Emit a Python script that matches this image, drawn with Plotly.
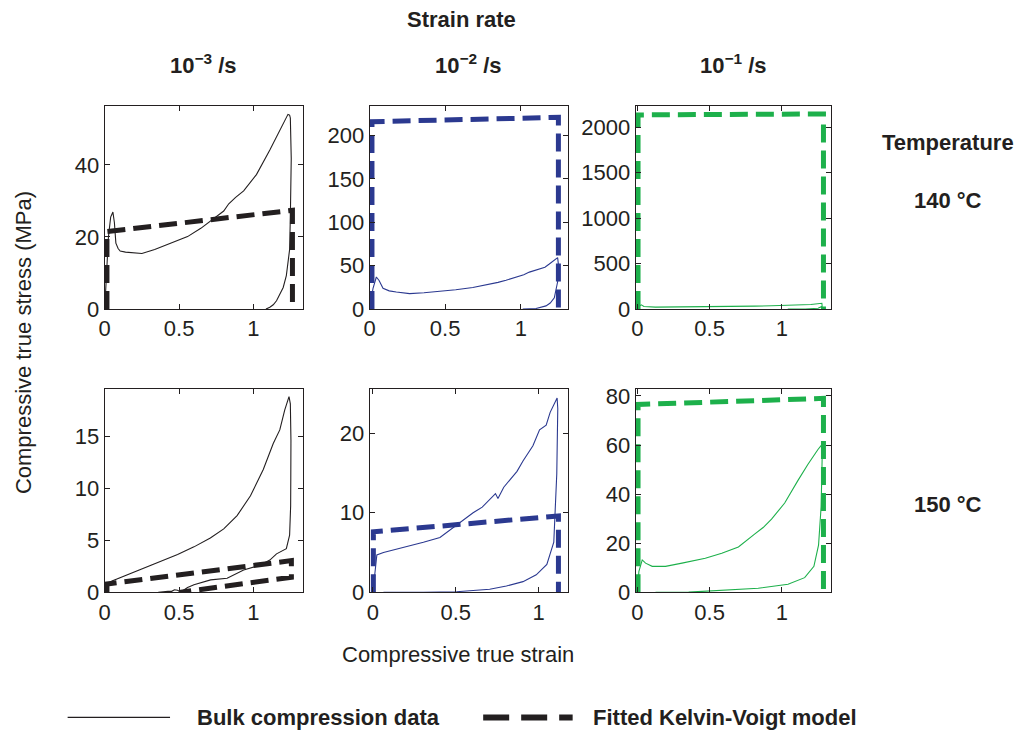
import plotly.graph_objects as go

W, H = 1021, 746
BLACK = '#231F20'
BLUE = '#2B3990'
GREEN = '#1DB04B'
FONT = 'Liberation Sans, Arial, Helvetica, sans-serif'

# ---------------- data ----------------
# 140 C, 1e-3 /s
strain_140_3 = [0, 0.01, 0.025, 0.04, 0.055, 0.065, 0.075, 0.09, 0.104, 0.14, 0.18, 0.25, 0.336, 0.447,
                0.557, 0.646, 0.757, 0.80, 0.834, 0.88, 0.934, 1.02, 1.11, 1.177, 1.21, 1.232, 1.243,
                1.248, 1.254, 1.252, 1.248, 1.243, 1.232, 1.221, 1.2, 1.177, 1.155, 1.133, 1.11, 1.084]
stress_140_3 = [0, 8, 20, 25.5, 26.9, 24, 18.3, 16.8, 16.1, 15.8, 15.6, 15.4, 16.5, 18.3,
                20.1, 22.4, 26.0, 27.2, 29.2, 31, 32.8, 37.3, 44.1, 49.5, 52, 54.0, 53.8,
                53.0, 41.8, 33, 25.5, 16.5, 12, 9.3, 6, 3.9, 2.3, 1.2, 0.5, 0]
kv_strain_140_3 = [0.015, 0.015, 1.262, 1.262]
kv_stress_140_3 = [0, 21.5, 27.4, 0]

# 140 C, 1e-2 /s
strain_140_2 = [0, 0.023, 0.045, 0.063, 0.089, 0.13, 0.177, 0.265, 0.36, 0.463, 0.57, 0.683, 0.79,
                0.85, 0.903, 0.98, 1.02, 1.057, 1.12, 1.16, 1.189, 1.244, 1.25, 1.244, 1.222, 1.195,
                1.167, 1.101, 1.013]
stress_140_2 = [0, 24, 37, 33, 24, 21, 19.6, 17.8, 18.9, 20.4, 22.3, 24.8, 28.5,
                30.8, 33.3, 37.5, 39.6, 42.6, 46.5, 48.2, 51.9, 59.3, 50, 31.5, 13, 7,
                3.7, 0.7, 0]
kv_strain_140_2 = [0.016, 0.016, 1.249, 1.249]
kv_stress_140_2 = [0, 216, 221, 0]

# 140 C, 1e-1 /s
strain_140_1 = [0, 0.011, 0.027, 0.046, 0.126, 0.3, 0.47, 0.65, 0.81, 0.93, 1.04, 1.2, 1.276,
                1.278, 1.25, 1.2, 1.16, 1.04]
stress_140_1 = [0, 30, 46, 28, 21, 22, 25, 28, 32, 36, 40, 50, 64,
                30, 10, 4, 1, 0]
kv_strain_140_1 = [0.005, 0.005, 1.287, 1.287]
kv_stress_140_1 = [0, 2135, 2145, 0]

# 150 C, 1e-3 /s
strain_150_3 = [0, 0.004, 0.049, 0.16, 0.27, 0.38, 0.49, 0.60, 0.71, 0.80, 0.89, 0.98, 1.066, 1.133,
                1.177, 1.21, 1.239, 1.248, 1.252, 1.251, 1.25, 1.243, 1.221, 1.155, 1.11, 1.044, 0.934,
                0.823, 0.712, 0.60, 0.557, 0.53, 0.513, 0.49, 0.469, 0.45, 0.425, 0.36]
stress_150_3 = [0, 0.5, 1.1, 1.74, 2.3, 2.94, 3.64, 4.37, 5.22, 6.1, 7.37, 9.27, 11.8, 14.3,
                15.6, 17.5, 18.8, 18.1, 14.6, 11, 8.3, 5.5, 4.2, 3.7, 3.1, 2.6, 2.15,
                1.36, 1.2, 0.73, 0.47, 0.2, 0, 0.2, 0.25, 0.1, 0.1, 0]
kv_strain_150_3 = [0.015, 0.015, 1.255, 1.255, 0.5]
kv_stress_150_3 = [0, 0.8, 3.05, 1.45, 0]

# 150 C, 1e-2 /s
strain_150_2 = [0, 0.024, 0.064, 0.164, 0.24, 0.305, 0.405, 0.45, 0.505, 0.56, 0.605, 0.66, 0.705,
                0.74, 0.755, 0.766, 0.79, 0.826, 0.87, 0.906, 0.966, 1.006, 1.03, 1.046, 1.07, 1.086,
                1.112, 1.116, 1.11, 1.092, 1.05, 0.986, 0.906, 0.806, 0.705, 0.505, 0.305, 0.064]
stress_150_2 = [0, 4.7, 5.0, 5.5, 5.9, 6.3, 6.9, 7.6, 8.4, 9.3, 10.0, 10.7, 11.6,
                12.4, 11.8, 12.2, 13.2, 14.1, 15.2, 16.5, 18.4, 20.4, 20.8, 21.0, 22.6, 23.3,
                24.4, 23.1, 14.9, 6.3, 3.5, 2.2, 1.35, 0.8, 0.4, 0.08, 0, 0]
kv_strain_150_2 = [0.003, 0.003, 1.12, 1.12]
kv_stress_150_2 = [0, 7.6, 9.6, 0]

# 150 C, 1e-1 /s
strain_150_1 = [0, 0.011, 0.034, 0.057, 0.103, 0.195, 0.309, 0.47, 0.584, 0.699, 0.813, 0.87, 0.928,
                1.019, 1.111, 1.18, 1.249, 1.276, 1.278, 1.271, 1.253, 1.221, 1.157, 1.042, 0.836,
                0.584, 0.355, 0.126]
stress_150_1 = [0, 8.6, 13.2, 11.9, 10.6, 10.6, 11.9, 13.9, 15.9, 18.5, 23.8, 26.4, 29.8,
                36.4, 45.6, 52.2, 58.2, 60.2, 54.9, 35, 19.2, 10.6, 6.0, 3.3, 1.7,
                0.7, 0.1, 0]
kv_strain_150_1 = [0.005, 0.005, 1.287, 1.287]
kv_stress_150_1 = [0, 76.5, 79, 0]

col_titles = ['10<sup>\u22123</sup> /s', '10<sup>\u22122</sup> /s', '10<sup>\u22121</sup> /s']
row_titles = ['140 \u00b0C', '150 \u00b0C']

panels = [
    (strain_140_3, stress_140_3, kv_strain_140_3, kv_stress_140_3, BLACK, [0, 1.33], [0, 56.3], [0, 20, 40]),
    (strain_140_2, stress_140_2, kv_strain_140_2, kv_stress_140_2, BLUE, [0, 1.315], [0, 234], [0, 50, 100, 150, 200]),
    (strain_140_1, stress_140_1, kv_strain_140_1, kv_stress_140_1, GREEN, [-0.012, 1.34], [0, 2232], [0, 500, 1000, 1500, 2000]),
    (strain_150_3, stress_150_3, kv_strain_150_3, kv_stress_150_3, BLACK, [0, 1.33], [0, 19.5], [0, 5, 10, 15]),
    (strain_150_2, stress_150_2, kv_strain_150_2, kv_stress_150_2, BLUE, [-0.02, 1.18], [0, 25.5], [0, 10, 20]),
    (strain_150_1, stress_150_1, kv_strain_150_1, kv_stress_150_1, GREEN, [-0.012, 1.34], [0, 82.7], [0, 20, 40, 60, 80]),
]

# ---------------- layout geometry (pixels) ----------------
col_px = [(99.3, 298.3), (365.7, 565.7), (633.3, 830.0)]
row_px = [(102.7, 311.0), (393.3, 601.7)]


def px(x):
    return x / W


def py(y):
    return 1 - y / H


fig = go.Figure()
layout = dict(width=W, height=H, margin=dict(l=0, r=0, t=0, b=0),
              paper_bgcolor='white', plot_bgcolor='white', showlegend=False,
              font=dict(family=FONT, color=BLACK))

for i, (sx, sy, kx, ky, color, xr, yr, yt) in enumerate(panels):
    r, c = divmod(i, 3)
    suf = '' if i == 0 else str(i + 1)
    fig.add_trace(go.Scatter(x=sx, y=sy, mode='lines', line=dict(color=color, width=1.1),
                             xaxis='x' + suf, yaxis='y' + suf, hoverinfo='skip'))
    fig.add_trace(go.Scatter(x=kx, y=ky, mode='lines', line=dict(color=color, width=5, dash='18px,8px'),
                             xaxis='x' + suf, yaxis='y' + suf, hoverinfo='skip'))
    axcommon = dict(showgrid=False, zeroline=False, showline=True, linecolor=BLACK, linewidth=1,
                    mirror='ticks', ticks='inside', ticklen=5, tickcolor=BLACK,
                    tickfont=dict(family=FONT, size=22, color=BLACK))
    layout['xaxis' + suf] = dict(axcommon, domain=[px(col_px[c][0]), px(col_px[c][1])], range=xr,
                                 tickvals=[0, 0.5, 1], ticktext=['0', '0.5', '1'], anchor='y' + suf)
    layout['yaxis' + suf] = dict(axcommon, domain=[py(row_px[r][1]), py(row_px[r][0])], range=yr,
                                 tickvals=yt, anchor='x' + suf)

ann = []


def text(x, y, s, size=22, bold=False, angle=0, xanchor='center'):
    ann.append(dict(x=px(x), y=py(y), xref='paper', yref='paper', showarrow=False,
                    text=('<b>%s</b>' % s) if bold else s, textangle=angle, xanchor=xanchor,
                    yanchor='middle', font=dict(family=FONT, size=size, color=BLACK)))


text(458, 14, 'Strain rate', bold=True)
for c, t in enumerate(col_titles):
    text((col_px[c][0] + col_px[c][1]) / 2, 60, t, bold=True)
text(948, 140, 'Temperature', bold=True)
text(948, 200, row_titles[0], bold=True)
text(948, 512, row_titles[1], bold=True)
text(17, 345, 'Compressive true stress (MPa)', size=22, angle=-90)
text(455, 665, 'Compressive true strain', size=22)
text(190, 730, 'Bulk compression data', bold=True, xanchor='left')
text(588, 730, 'Fitted Kelvin-Voigt model', bold=True, xanchor='left')

shapes = [
    dict(type='line', xref='paper', yref='paper', x0=px(62), x1=px(165), y0=py(730), y1=py(730),
         line=dict(color=BLACK, width=1.1)),
    dict(type='line', xref='paper', yref='paper', x0=px(480), x1=px(570), y0=py(730), y1=py(730),
         line=dict(color=BLACK, width=6, dash='26px,12px')),
]

layout['annotations'] = ann
layout['shapes'] = shapes
fig.update_layout(**layout)
fig.write_html('out.html')
